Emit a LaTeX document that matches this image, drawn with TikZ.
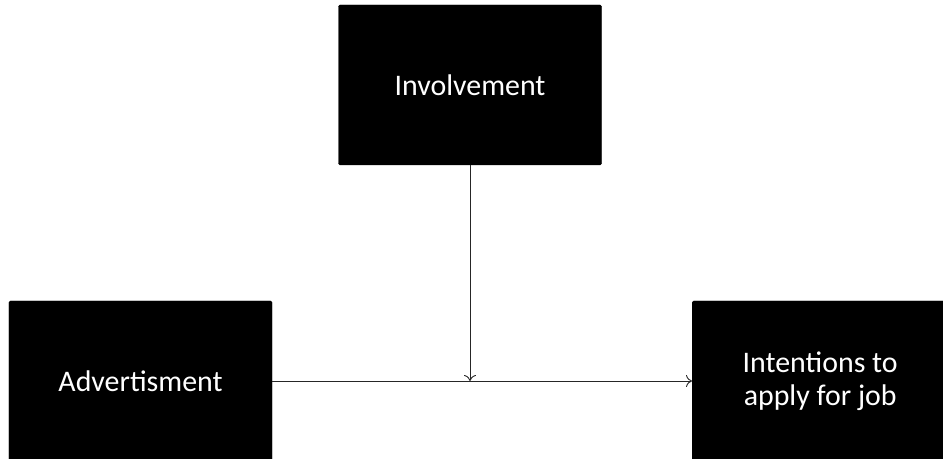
\documentclass[tikz,border=0pt]{standalone}
\usepackage{fontspec}
\setmainfont{Carlito}
\usetikzlibrary{arrows.meta}
\begin{document}
\begin{tikzpicture}[x=1bp,y=-1bp,
  blackbox/.style={draw=black,fill=black,text=white,rounded corners=1.5bp,inner sep=0pt,
    font=\fontsize{30}{33}\selectfont,align=center},
  conn/.style={draw=black!85,line width=0.9bp,-{To[length=6bp,width=12bp]}}]
\useasboundingbox (0,0) rectangle (943,459);
\node[blackbox,minimum width=263bp,minimum height=160bp] (inv) at (470,85) {Involvement};
\node[blackbox,minimum width=263bp,minimum height=160bp] (adv) at (140.5,381) {Advertisment};
\node[blackbox,minimum width=256bp,minimum height=160bp,anchor=west] (int) at (692,381) {Intentions to\\apply for job};
\coordinate (j) at (470,381);
\draw[conn] (adv.east |- j) -- (int.west |- j);
\draw[conn] (inv.south) -- (j);
\end{tikzpicture}
\end{document}
